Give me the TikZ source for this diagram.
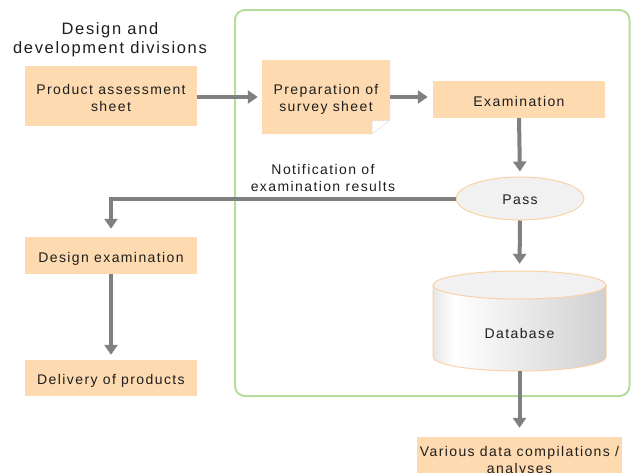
\documentclass[tikz,border=0pt]{standalone}
\usepackage{fontspec}
\setmainfont{Liberation Sans}[LetterSpace=10]
\usetikzlibrary{arrows.meta,shapes.geometric,calc}
\definecolor{peach}{HTML}{FDDAB0}
\definecolor{frame}{HTML}{B6DD9C}
\definecolor{arrowgray}{HTML}{808080}
\definecolor{edgeor}{HTML}{F9D2A4}
\definecolor{passfill}{HTML}{F1F1F1}
\definecolor{txt}{HTML}{1E1E1E}
\definecolor{cylA}{HTML}{E6E6E6}
\definecolor{cylC}{HTML}{D0D0D0}
\pgfdeclarehorizontalshading{cylshade}{100bp}{color(0bp)=(cylA); color(25bp)=(cylA); color(31bp)=(white); color(75bp)=(cylC); color(100bp)=(cylC)}
\begin{document}
\begin{tikzpicture}[x=1pt,y=1pt,
  every node/.style={text=txt, font=\fontsize{14}{17}\selectfont},
  box/.style={fill=peach, inner sep=0pt, minimum width=172pt},
  lbl/.style={inner sep=0pt, align=center},
  flow/.style={draw=arrowgray, line width=4pt, -{Triangle[length=10pt,width=13pt]}, shorten >=5pt},
]
\useasboundingbox (0,0) rectangle (631,-472);

% group frame
\draw[frame, line width=2pt, rounded corners=10pt] (235,-10) rectangle (629.5,-396);

% title
\node[align=center, font=\fontsize{16.5}{19}\selectfont] (title) at (110,-40) {Design and\\development divisions};

% boxes
\node[box, minimum height=60pt] (pas) at (111,-96) {};
\node[lbl] (pasT) at (111,-98) {Product assessment\\sheet};

\fill[peach] (262,-60) -- (390,-60) -- (390,-120) -- (372,-134) -- (262,-134) -- cycle;
\filldraw[fill=white, draw=black!12, line width=0.5pt] (372,-134) -- (389.5,-120.5) -- (372,-121) -- cycle;
\node[inner sep=0pt, minimum width=128pt, minimum height=74pt] (prep) at (326,-97) {};
\node[lbl] (prepT) at (326,-99) {Preparation of\\survey sheet};

\node[box, minimum height=37pt] (exam) at (519,-99.5) {};
\node[lbl] (examT) at (519,-101.5) {Examination};

\node[ellipse, fill=passfill, draw=edgeor, line width=1pt, minimum width=128pt, minimum height=43pt, inner sep=0pt] (pass) at (520,-198.5) {};
\node[lbl] (passT) at (520,-200) {Pass};

\node[lbl] (note) at (323,-177.5) {Notification of\\examination results};

\node[box, minimum height=37pt] (desexam) at (111,-255.5) {};
\node[lbl] (desexamT) at (111,-259) {Design examination};
\node[box, minimum height=36pt] (deliv) at (111,-378) {};
\node[lbl] (delivT) at (111,-381) {Delivery of products};

% database cylinder
\shade[shading=cylshade] (433,-285) -- (433,-357) arc[start angle=180, end angle=360, x radius=86.5, y radius=14] -- (606,-285) -- cycle;
\draw[edgeor, line width=1pt] (433,-285) -- (433,-357) arc[start angle=180, end angle=360, x radius=86.5, y radius=14] -- (606,-285);
\filldraw[fill=passfill, draw=edgeor, line width=1pt] (519.5,-285) ellipse[x radius=86.5, y radius=14];
\node[inner sep=0pt, minimum width=173pt, minimum height=100pt] (db) at (519.5,-321) {};
\node[lbl] (dbT) at (519.5,-333) {Database};

\node[box, minimum width=205pt, minimum height=46pt] (various) at (519.5,-460) {};
\node[lbl] (variousT) at (519.5,-461.5) {Various data compilations /\\analyses};

% connectors
\draw[flow, shorten >=4pt] (pas.east |- prep.west) -- (prep.west);
\draw[flow] (prep.east) -- (prep.east -| exam.west);
\draw[flow] (exam.south) -- (pass.north);
\draw[flow, shorten >=8pt] (pass.west) -- (desexam.north |- pass.west) -- (desexam.north);
\draw[flow, shorten >=7pt] (pass.south) -- (db.north);
\draw[flow] (desexam.south) -- (deliv.north);
\draw[flow, shorten >=9pt] (db.south) -- (various.north);
\end{tikzpicture}
\end{document}
